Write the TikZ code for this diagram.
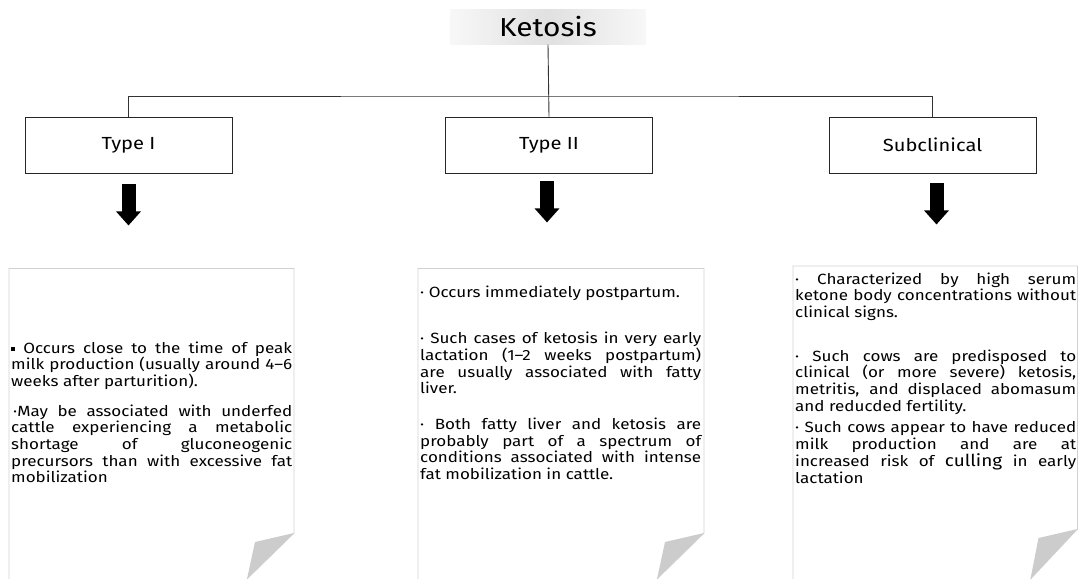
\documentclass[tikz,border=0pt]{standalone}
\usepackage{fontspec}
\setmainfont{Fira Sans}[FakeStretch=1.15]
\usetikzlibrary{positioning,arrows.meta}

\newcommand\sqb{\rule[0.28ex]{0.28em}{0.28em}}
\newcommand\notesheet[4]{%
  \draw[paper] (#1,579) -- (#1,#2) -- (#3,#2) -- (#3,#4) -- ({#3-47},579);
  \fill[flap] (#3,#4) -- ++(-39,9) -- ({#3-47},579) -- cycle;}

\begin{document}
\begin{tikzpicture}[x=1pt,y=-1pt,
    titlebox/.style={minimum width=195pt,minimum height=35pt,inner sep=0pt,
      left color=gray!6,right color=gray!6,middle color=gray!24,
      font=\fontsize{26}{30}\selectfont},
    typebox/.style={draw=black!85,line width=0.9pt,minimum width=207pt,minimum height=56pt,
      inner sep=0pt,font=\fontsize{17.5}{20}\selectfont},
    link/.style={draw=black!80,line width=0.9pt},
    blockarrow/.style={line width=14pt,-{Triangle[length=14pt,width=24pt]}},
    notetext/.style={anchor=base west,inner sep=0pt,text width=281pt,align=justify,
      font=\fontsize{14.8}{16.7}\selectfont},
    paper/.style={draw=black!18,line width=0.8pt},
    flap/.style={fill=black!20}]
  \useasboundingbox (0,0) rectangle (1078,578);

  \node[titlebox] (ketosis) at (548,27) {Ketosis};
  \node[typebox] (type1) at (128.5,145) {Type I};
  \node[typebox] (type2) at (549,145) {Type II};
  \node[typebox] (subclin) at (932.5,145) {Subclinical};
  \coordinate (hub) at (549,96);

  \draw[link] (ketosis.south) -- (type2.north);
  \draw[link] (type1.north) |- (hub) -| (subclin.north);

  \draw[blockarrow] ([yshift=-11pt]type1.south) -- ++(0,41);
  \draw[blockarrow] ([xshift=-2pt,yshift=-8pt]type2.south) -- ++(0,41);
  \draw[blockarrow] ([xshift=4pt,yshift=-10pt]subclin.south) -- ++(0,41);

  \notesheet{9}{268.5}{294}{533}
  \notesheet{418}{268.5}{704}{533}
  \notesheet{793}{266}{1077.5}{529}

  \node[notetext] (type1note) at (11,353) {\sqb\ Occurs close to the time of peak\linebreak
    milk production (usually around 4--6\linebreak weeks after parturition).\par\vspace{13pt}
    \hspace*{2pt}·May be associated with underfed\linebreak cattle experiencing a metabolic\linebreak
    shortage of gluconeogenic\linebreak precursors than with excessive fat\linebreak mobilization};
  \node[notetext] (type2note) at (420,297) {· Occurs immediately postpartum.\par\vspace{30pt}
    · Such cases of ketosis in very early\linebreak lactation (1--2 weeks postpartum)\linebreak
    are usually associated with fatty\linebreak liver.\par\vspace{19pt}
    · Both fatty liver and ketosis are\linebreak probably part of a spectrum of\linebreak
    conditions associated with intense\linebreak fat mobilization in cattle.};
  \node[notetext] (subclinnote) at (795,284) {· Characterized by high serum\linebreak
    ketone body concentrations without\linebreak clinical signs.\par\vspace{27pt}
    · Such cows are predisposed to\linebreak clinical (or more severe) ketosis,\linebreak
    metritis, and displaced abomasum\linebreak and reducded fertility.\par\vspace{5pt}
    · Such cows appear to have reduced\linebreak milk production and are at\linebreak
    increased risk of {\fontsize{16.5}{16.7}\selectfont culling} in early\linebreak lactation};
\end{tikzpicture}
\end{document}
